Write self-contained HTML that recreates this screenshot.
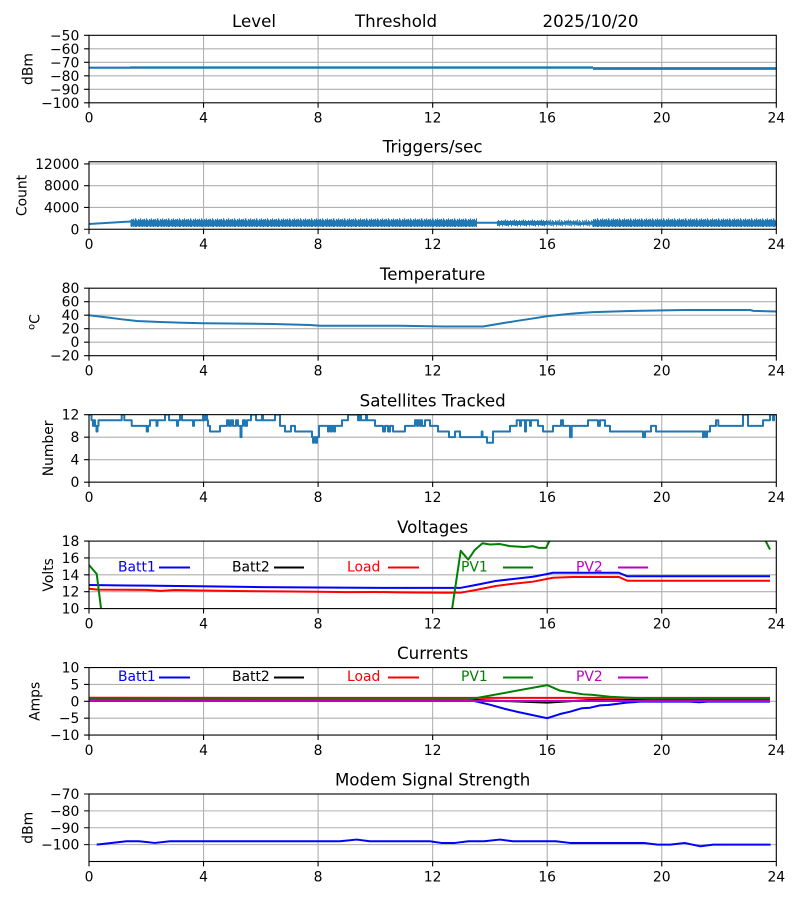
<!DOCTYPE html>
<html><head><meta charset="utf-8"><style>
html,body{margin:0;padding:0;background:#fff;}
svg{display:block;}
text{font-family:"DejaVu Sans","Liberation Sans",sans-serif;fill:#000;}
.t{font-size:13.9px;}
.ti{font-size:16.67px;}
.g{stroke:#b0b0b0;stroke-width:1.1;fill:none;}
.sp{stroke:#000;stroke-width:1.1;fill:none;}
.tk{stroke:#000;stroke-width:1.1;}
.d{fill:none;stroke-width:2;vector-effect:non-scaling-stroke;stroke-linejoin:round;}
</style></head><body>
<svg width="800" height="900" viewBox="0 0 800 900" xmlns="http://www.w3.org/2000/svg">
<defs>
<clipPath id="c1"><rect x="89" y="35.3" width="687.3" height="67.5"/></clipPath>
<clipPath id="c2"><rect x="89" y="161.75" width="687.3" height="67.5"/></clipPath>
<clipPath id="c3"><rect x="89" y="288.2" width="687.3" height="67.5"/></clipPath>
<clipPath id="c4"><rect x="89" y="414.65" width="687.3" height="67.5"/></clipPath>
<clipPath id="c5"><rect x="89" y="541.1" width="687.3" height="67.5"/></clipPath>
<clipPath id="c6"><rect x="89" y="667.55" width="687.3" height="67.5"/></clipPath>
<clipPath id="c7"><rect x="89" y="794" width="687.3" height="67.5"/></clipPath>
<pattern id="noise" patternUnits="userSpaceOnUse" x="0" y="218" width="11" height="10">
<g fill="#1f77b4">
<rect x="0" y="1.5" width="1.1" height="7"/>
<rect x="1" y="0.8" width="1.1" height="8"/>
<rect x="2" y="2.2" width="1.1" height="6.3"/>
<rect x="3" y="0.3" width="1.1" height="8.7"/>
<rect x="4" y="1.6" width="1.1" height="7.4"/>
<rect x="5" y="2.6" width="1.1" height="5.6"/>
<rect x="6" y="1" width="1.1" height="7.6"/>
<rect x="7" y="1.8" width="1.1" height="7.2"/>
<rect x="8" y="0.4" width="1.1" height="8.2"/>
<rect x="9" y="2" width="1.1" height="6.6"/>
<rect x="10" y="1.2" width="1" height="7.8"/>
</g>
</pattern>
<pattern id="noise2" patternUnits="userSpaceOnUse" x="0" y="219" width="9" height="8">
<g fill="#1f77b4">
<rect x="0" y="1.5" width="1.1" height="5"/>
<rect x="1" y="0.5" width="1.1" height="6"/>
<rect x="2" y="2.5" width="1.1" height="4.5"/>
<rect x="3" y="1" width="1.1" height="5.5"/>
<rect x="4" y="2" width="1.1" height="5.5"/>
<rect x="5" y="3" width="1.1" height="3"/>
<rect x="6" y="1" width="1.1" height="5"/>
<rect x="7" y="2" width="1.1" height="5.5"/>
<rect x="8" y="1.5" width="1" height="4.5"/>
</g>
</pattern>
</defs>

<!-- ========== Panel 1: Level ========== -->
<text class="ti" x="232" y="27">Level</text>
<text class="ti" x="355" y="27">Threshold</text>
<text class="ti" x="542.5" y="27">2025/10/20</text>
<g class="g">
<path d="M89 48.8H776.3M89 62.3H776.3M89 75.8H776.3M89 89.3H776.3"/>
<path d="M203.55 35.3V102.8M318.1 35.3V102.8M432.65 35.3V102.8M547.2 35.3V102.8M661.75 35.3V102.8"/>
</g>
<g clip-path="url(#c1)">
<rect x="130" y="66" width="463" height="2.2" fill="#1f77b4" opacity="0.45"/>
<polyline points="89,67.7 593,67.7" fill="none" stroke="#1f77b4" stroke-width="2.2"/>
<polyline points="593,68.5 776.3,68.5" fill="none" stroke="#1f77b4" stroke-width="2.8"/>
</g>
<rect class="sp" x="89" y="35.3" width="687.3" height="67.5"/>
<g class="tk"><path d="M84.1 35.3H89M84.1 48.8H89M84.1 62.3H89M84.1 75.8H89M84.1 89.3H89M84.1 102.8H89"/>
<path d="M89 102.8v4.9M203.55 102.8v4.9M318.1 102.8v4.9M432.65 102.8v4.9M547.2 102.8v4.9M661.75 102.8v4.9M776.3 102.8v4.9"/></g>
<g class="t" text-anchor="end">
<text x="79.3" y="40.3">−50</text><text x="79.3" y="53.8">−60</text><text x="79.3" y="67.3">−70</text><text x="79.3" y="80.8">−80</text><text x="79.3" y="94.3">−90</text><text x="79.3" y="107.8">−100</text>
</g>
<g class="t" text-anchor="middle">
<text x="89" y="122.6">0</text><text x="203.55" y="122.6">4</text><text x="318.1" y="122.6">8</text><text x="432.65" y="122.6">12</text><text x="547.2" y="122.6">16</text><text x="661.75" y="122.6">20</text><text x="776.3" y="122.6">24</text>
</g>
<text class="t" text-anchor="middle" transform="translate(32.5 69.05) rotate(-90)">dBm</text>

<!-- ========== Panel 2: Triggers ========== -->
<text class="ti" x="432.65" y="152.4" text-anchor="middle">Triggers/sec</text>
<g class="g">
<path d="M89 207.47H776.3M89 185.7H776.3M89 163.93H776.3"/>
<path d="M203.55 161.75V229.25M318.1 161.75V229.25M432.65 161.75V229.25M547.2 161.75V229.25M661.75 161.75V229.25"/>
</g>
<g clip-path="url(#c2)">
<polyline points="89,224 130.5,221.5" fill="none" stroke="#1f77b4" stroke-width="2"/>
<rect x="130.5" y="218" width="346.5" height="10" fill="url(#noise)"/>
<rect x="130.5" y="220.5" width="346.5" height="4" fill="#1f77b4"/>
<polyline points="477,222.8 497,222.8" fill="none" stroke="#1f77b4" stroke-width="2"/>
<rect x="497" y="219" width="50" height="8" fill="url(#noise2)"/>
<rect x="497" y="221" width="50" height="3" fill="#1f77b4"/>
<rect x="547" y="219" width="46" height="8" fill="url(#noise2)" opacity="0.85"/>
<polyline points="547,222.5 560,223.5 570,222 580,224 593,222.5" fill="none" stroke="#1f77b4" stroke-width="2"/>
<rect x="593" y="218" width="183.3" height="10" fill="url(#noise)"/>
<rect x="593" y="220.5" width="183.3" height="4" fill="#1f77b4"/>
</g>
<rect class="sp" x="89" y="161.75" width="687.3" height="67.5"/>
<g class="tk"><path d="M84.1 229.25H89M84.1 207.47H89M84.1 185.7H89M84.1 163.93H89"/>
<path d="M89 229.25v4.9M203.55 229.25v4.9M318.1 229.25v4.9M432.65 229.25v4.9M547.2 229.25v4.9M661.75 229.25v4.9M776.3 229.25v4.9"/></g>
<g class="t" text-anchor="end">
<text x="79.3" y="234.25">0</text><text x="79.3" y="212.47">4000</text><text x="79.3" y="190.7">8000</text><text x="79.3" y="168.93">12000</text>
</g>
<g class="t" text-anchor="middle">
<text x="89" y="249.05">0</text><text x="203.55" y="249.05">4</text><text x="318.1" y="249.05">8</text><text x="432.65" y="249.05">12</text><text x="547.2" y="249.05">16</text><text x="661.75" y="249.05">20</text><text x="776.3" y="249.05">24</text>
</g>
<text class="t" text-anchor="middle" transform="translate(26.5 195.5) rotate(-90)">Count</text>

<!-- ========== Panel 3: Temperature ========== -->
<text class="ti" x="432.65" y="279.9" text-anchor="middle">Temperature</text>
<g class="g">
<path d="M89 301.7H776.3M89 315.2H776.3M89 328.7H776.3M89 342.2H776.3"/>
<path d="M203.55 288.2V355.7M318.1 288.2V355.7M432.65 288.2V355.7M547.2 288.2V355.7M661.75 288.2V355.7"/>
</g>
<g clip-path="url(#c3)"><g transform="translate(89 342.2) scale(28.6375 -0.675)">
<polyline class="d" stroke="#1f77b4" points="0,39.9 0.73,36.3 1.14,33.9 1.67,31.4 2.48,29.9 3.28,28.9 3.98,28 6.43,27 7.72,25.5 8.07,24.3 10.86,24.3 12.36,23.2 13.76,23.2 14.35,27.5 14.93,31.5 15.51,35.2 15.98,38.5 16.91,42.6 17.61,44.6 18.89,46.2 20.81,47.7 23.08,47.7 23.2,46.4 24,45.4"/>
</g></g>
<rect class="sp" x="89" y="288.2" width="687.3" height="67.5"/>
<g class="tk"><path d="M84.1 288.2H89M84.1 301.7H89M84.1 315.2H89M84.1 328.7H89M84.1 342.2H89M84.1 355.7H89"/>
<path d="M89 355.7v4.9M203.55 355.7v4.9M318.1 355.7v4.9M432.65 355.7v4.9M547.2 355.7v4.9M661.75 355.7v4.9M776.3 355.7v4.9"/></g>
<g class="t" text-anchor="end">
<text x="79.3" y="293.2">80</text><text x="79.3" y="306.7">60</text><text x="79.3" y="320.2">40</text><text x="79.3" y="333.7">20</text><text x="79.3" y="347.2">0</text><text x="79.3" y="360.7">−20</text>
</g>
<g class="t" text-anchor="middle">
<text x="89" y="375.5">0</text><text x="203.55" y="375.5">4</text><text x="318.1" y="375.5">8</text><text x="432.65" y="375.5">12</text><text x="547.2" y="375.5">16</text><text x="661.75" y="375.5">20</text><text x="776.3" y="375.5">24</text>
</g>
<text class="t" text-anchor="middle" transform="translate(39.5 322) rotate(-90)"><tspan font-size="9.7" dy="-5">o</tspan><tspan dy="5">C</tspan></text>

<!-- ========== Panel 4: Satellites ========== -->
<text class="ti" x="432.65" y="406.3" text-anchor="middle">Satellites Tracked</text>
<g class="g">
<path d="M89 437.15H776.3M89 459.65H776.3"/>
<path d="M203.55 414.65V482.15M318.1 414.65V482.15M432.65 414.65V482.15M547.2 414.65V482.15M661.75 414.65V482.15"/>
</g>
<g clip-path="url(#c4)"><g transform="translate(89 482.15) scale(28.6375 -5.625)">
<polyline class="d" stroke="#1f77b4" points="0,12 0.087,12 0.087,11 0.140,11 0.140,10 0.175,10 0.175,11 0.209,11 0.209,10 0.262,10 0.262,9 0.297,9 0.297,10 0.332,10 0.332,11 1.142,11 1.142,12 1.233,12 1.233,11 1.491,11 1.491,10 2.015,10 2.015,9 2.060,9 2.060,10 2.130,10 2.130,11 2.357,11 2.357,10 2.392,10 2.392,11 2.654,11 2.654,12 2.794,12 2.794,11 3.073,11 3.073,10 3.108,10 3.108,11 3.178,11 3.178,12 3.248,12 3.248,11 3.632,11 3.632,10 3.667,10 3.667,11 3.981,11 3.981,12 4.016,12 4.016,11 4.051,11 4.051,12 4.120,12 4.120,11 4.155,11 4.155,10 4.225,10 4.225,9 4.574,9 4.574,10 4.819,10 4.819,11 4.889,11 4.889,10 4.958,10 4.958,11 5.028,11 5.028,10 5.133,10 5.133,11 5.203,11 5.203,10 5.290,10 5.290,8 5.325,8 5.325,10 5.378,10 5.378,11 5.447,11 5.447,10 5.517,10 5.517,11 5.657,11 5.657,12 5.832,12 5.832,11 6.041,11 6.041,12 6.076,12 6.076,11 6.495,11 6.495,12 6.670,12 6.670,10 6.844,10 6.844,9 7.054,9 7.054,10 7.194,10 7.194,9 7.787,9 7.787,8 7.822,8 7.822,7 7.857,7 7.857,8 7.927,8 7.927,7 7.962,7 7.962,8 8.031,8 8.031,10 8.346,10 8.346,9 8.380,9 8.380,10 8.450,10 8.450,9 8.485,9 8.485,10 8.555,10 8.555,9 8.590,9 8.590,10 8.835,10 8.835,11 9.044,11 9.044,12 9.393,12 9.393,11 9.463,11 9.463,12 9.498,12 9.498,11 9.673,11 9.673,12 9.708,12 9.708,11 9.987,11 9.987,10 10.266,10 10.266,9 10.336,9 10.336,10 10.441,10 10.441,9 10.511,9 10.511,10 10.616,10 10.616,9 11.034,9 11.034,10 11.384,10 11.384,11 11.454,11 11.454,10 11.489,10 11.489,11 11.559,11 11.559,10 11.593,10 11.593,11 11.628,11 11.628,10 11.733,10 11.733,11 11.908,11 11.908,10 12.187,10 12.187,9 12.571,9 12.571,8 12.781,8 12.781,9 12.955,9 12.955,8 13.713,8 13.713,9 13.741,9 13.741,8 13.898,8 13.898,7 14.108,7 14.108,9 14.701,9 14.701,10 14.935,10 14.935,11 15.050,11 15.050,10 15.085,10 15.085,11 15.225,11 15.225,9 15.259,9 15.259,11 15.399,11 15.399,10 15.434,10 15.434,11 15.679,11 15.679,10 15.854,10 15.854,9 16.203,9 16.203,10 16.482,10 16.482,11 16.552,11 16.552,10 16.797,10 16.797,8 16.856,8 16.856,10 17.425,10 17.425,11 17.774,11 17.774,10 17.844,10 17.844,11 18.018,11 18.018,10 18.193,10 18.193,9 19.345,9 19.345,8 19.415,8 19.415,9 19.625,9 19.625,10 19.800,10 19.800,9 21.441,9 21.441,8 21.476,8 21.476,9 21.545,9 21.545,8 21.580,8 21.580,9 21.685,9 21.685,10 21.894,10 21.894,11 21.975,11 21.975,10 22.837,10 22.837,12 23.012,12 23.012,10 23.536,10 23.536,11 23.780,11 23.780,12 23.885,12 23.885,11 23.920,11 23.920,12 24,12"/>
</g></g>
<rect class="sp" x="89" y="414.65" width="687.3" height="67.5"/>
<g class="tk"><path d="M84.1 414.65H89M84.1 437.15H89M84.1 459.65H89M84.1 482.15H89"/>
<path d="M89 482.15v4.9M203.55 482.15v4.9M318.1 482.15v4.9M432.65 482.15v4.9M547.2 482.15v4.9M661.75 482.15v4.9M776.3 482.15v4.9"/></g>
<g class="t" text-anchor="end">
<text x="79.3" y="419.65">12</text><text x="79.3" y="442.15">8</text><text x="79.3" y="464.65">4</text><text x="79.3" y="487.15">0</text>
</g>
<g class="t" text-anchor="middle">
<text x="89" y="501.95">0</text><text x="203.55" y="501.95">4</text><text x="318.1" y="501.95">8</text><text x="432.65" y="501.95">12</text><text x="547.2" y="501.95">16</text><text x="661.75" y="501.95">20</text><text x="776.3" y="501.95">24</text>
</g>
<text class="t" text-anchor="middle" transform="translate(52.8 448.4) rotate(-90)">Number</text>

<!-- ========== Panel 5: Voltages ========== -->
<text class="ti" x="432.65" y="532.8" text-anchor="middle">Voltages</text>
<g class="g">
<path d="M89 557.98H776.3M89 574.85H776.3M89 591.73H776.3"/>
<path d="M203.55 541.1V608.6M318.1 541.1V608.6M432.65 541.1V608.6M547.2 541.1V608.6M661.75 541.1V608.6"/>
</g>
<g clip-path="url(#c5)"><g transform="translate(89 692.975) scale(28.6375 -8.4375)">
<polyline class="d" stroke="#0000ff" points="0,12.8 1,12.75 2,12.72 3.88,12.65 6,12.55 8,12.5 10.86,12.45 12.96,12.45 13.5,12.8 14.2,13.27 14.7,13.47 15.5,13.78 15.96,14.07 16.2,14.25 18.5,14.25 18.8,13.83 23.78,13.83"/>
<polyline class="d" stroke="#ff0000" points="0,12.35 0.3,12.25 2,12.22 2.5,12.1 3,12.2 3.88,12.15 6,12.05 8,12.0 9,11.95 10,11.97 10.86,11.93 12.5,11.88 13,11.9 13.5,12.2 14.2,12.68 14.7,12.9 15.5,13.19 16.2,13.66 16.9,13.75 18.5,13.75 18.8,13.3 23.78,13.3"/>
<polyline class="d" stroke="#008000" points="0,15.17 0.27,14.1 0.45,9.2 0.6,0 12.55,0 12.68,10 12.98,16.85 13.24,15.8 13.47,16.95 13.74,17.74 14.0,17.6 14.35,17.65 14.7,17.4 15.2,17.3 15.5,17.4 15.7,17.2 15.96,17.2 16.15,18.5 16.4,19.5 23.45,19.5 23.6,18.2 23.78,17.0"/>
</g></g>
<rect class="sp" x="89" y="541.1" width="687.3" height="67.5"/>
<g class="tk"><path d="M84.1 541.1H89M84.1 557.98H89M84.1 574.85H89M84.1 591.73H89M84.1 608.6H89"/>
<path d="M89 608.6v4.9M203.55 608.6v4.9M318.1 608.6v4.9M432.65 608.6v4.9M547.2 608.6v4.9M661.75 608.6v4.9M776.3 608.6v4.9"/></g>
<g class="t" text-anchor="end">
<text x="79.3" y="546.1">18</text><text x="79.3" y="562.98">16</text><text x="79.3" y="579.85">14</text><text x="79.3" y="596.73">12</text><text x="79.3" y="613.6">10</text>
</g>
<g class="t" text-anchor="middle">
<text x="89" y="628.4">0</text><text x="203.55" y="628.4">4</text><text x="318.1" y="628.4">8</text><text x="432.65" y="628.4">12</text><text x="547.2" y="628.4">16</text><text x="661.75" y="628.4">20</text><text x="776.3" y="628.4">24</text>
</g>
<text class="t" text-anchor="middle" transform="translate(52.8 574.85) rotate(-90)">Volts</text>
<g class="t">
<text x="118" y="571.5" style="fill:#0000ff">Batt1</text>
<text x="232" y="571.5" style="fill:#000000">Batt2</text>
<text x="347" y="571.5" style="fill:#ff0000">Load</text>
<text x="461" y="571.5" style="fill:#008000">PV1</text>
<text x="576" y="571.5" style="fill:#bf00bf">PV2</text>
</g>
<g stroke-width="2.1">
<path d="M159 567.5H190" stroke="#0000ff"/>
<path d="M274 567.5H304" stroke="#000000"/>
<path d="M388 567.5H419" stroke="#ff0000"/>
<path d="M503 567.5H533" stroke="#008000"/>
<path d="M618 567.5H648" stroke="#bf00bf"/>
</g>

<!-- ========== Panel 6: Currents ========== -->
<text class="ti" x="432.65" y="659.2" text-anchor="middle">Currents</text>
<g class="g">
<path d="M89 684.43H776.3M89 701.3H776.3M89 718.18H776.3"/>
<path d="M203.55 667.55V735.05M318.1 667.55V735.05M432.65 667.55V735.05M547.2 667.55V735.05M661.75 667.55V735.05"/>
</g>
<g clip-path="url(#c6)"><g transform="translate(89 701.3) scale(28.6375 -3.375)">
<polyline class="d" stroke="#0000ff" points="0,0.2 13.4,0.2 14.0,-1.0 14.5,-2.2 15.0,-3.2 16.0,-5.0 16.45,-3.77 16.8,-3.08 17.2,-2.07 17.5,-1.9 17.84,-1.2 18.13,-1.1 18.77,-0.4 19.24,-0.1 21,-0.1 21.3,-0.3 21.6,-0.1 23.78,-0.1"/>
<polyline class="d" stroke="#000000" points="0,0.4 13.5,0.4 16,-0.4 17.5,0.4 23.78,0.4"/>
<polyline class="d" stroke="#ff0000" points="0,1.05 6,1.0 12,1.0 23.78,1.0"/>
<polyline class="d" stroke="#008000" points="0,0.6 13.3,0.6 16.0,4.8 16.45,3.15 17.25,2.07 17.6,1.9 18.19,1.36 18.8,1.1 19.5,0.8 23.78,0.8"/>
<polyline class="d" stroke="#bf00bf" points="0,0.1 13.4,0.1 23.78,0.1"/>
</g></g>
<rect class="sp" x="89" y="667.55" width="687.3" height="67.5"/>
<g class="tk"><path d="M84.1 667.55H89M84.1 684.43H89M84.1 701.3H89M84.1 718.18H89M84.1 735.05H89"/>
<path d="M89 735.05v4.9M203.55 735.05v4.9M318.1 735.05v4.9M432.65 735.05v4.9M547.2 735.05v4.9M661.75 735.05v4.9M776.3 735.05v4.9"/></g>
<g class="t" text-anchor="end">
<text x="79.3" y="672.55">10</text><text x="79.3" y="689.43">5</text><text x="79.3" y="706.3">0</text><text x="79.3" y="723.18">−5</text><text x="79.3" y="740.05">−10</text>
</g>
<g class="t" text-anchor="middle">
<text x="89" y="754.85">0</text><text x="203.55" y="754.85">4</text><text x="318.1" y="754.85">8</text><text x="432.65" y="754.85">12</text><text x="547.2" y="754.85">16</text><text x="661.75" y="754.85">20</text><text x="776.3" y="754.85">24</text>
</g>
<text class="t" text-anchor="middle" transform="translate(39.5 701.3) rotate(-90)">Amps</text>
<g class="t">
<text x="118" y="681" style="fill:#0000ff">Batt1</text>
<text x="232" y="681" style="fill:#000000">Batt2</text>
<text x="347" y="681" style="fill:#ff0000">Load</text>
<text x="461" y="681" style="fill:#008000">PV1</text>
<text x="576" y="681" style="fill:#bf00bf">PV2</text>
</g>
<g stroke-width="2.1">
<path d="M159 677.5H190" stroke="#0000ff"/>
<path d="M274 677.5H304" stroke="#000000"/>
<path d="M388 677.5H419" stroke="#ff0000"/>
<path d="M503 677.5H533" stroke="#008000"/>
<path d="M618 677.5H648" stroke="#bf00bf"/>
</g>

<!-- ========== Panel 7: Modem ========== -->
<text class="ti" x="432.65" y="785.7" text-anchor="middle">Modem Signal Strength</text>
<g class="g">
<path d="M89 810.88H776.3M89 827.75H776.3M89 844.63H776.3"/>
<path d="M203.55 794V861.5M318.1 794V861.5M432.65 794V861.5M547.2 794V861.5M661.75 794V861.5"/>
</g>
<g clip-path="url(#c7)"><g transform="translate(89 675.875) scale(28.6375 -1.6875)">
<polyline class="d" stroke="#0000ff" points="0.27,-100 1.31,-98 1.75,-98 2.3,-99 2.83,-98 8.76,-98 9.35,-97 9.8,-98 11.9,-98 12.3,-99 12.78,-99 13.25,-98 13.8,-98 14.35,-97 14.8,-98 16.3,-98 16.8,-99 19.38,-99 19.85,-100 20.3,-100 20.8,-99 21.35,-101 21.8,-100 23.8,-100"/>
</g></g>
<rect class="sp" x="89" y="794" width="687.3" height="67.5"/>
<g class="tk"><path d="M84.1 794H89M84.1 810.88H89M84.1 827.75H89M84.1 844.63H89"/>
<path d="M89 861.5v4.9M203.55 861.5v4.9M318.1 861.5v4.9M432.65 861.5v4.9M547.2 861.5v4.9M661.75 861.5v4.9M776.3 861.5v4.9"/></g>
<g class="t" text-anchor="end">
<text x="79.3" y="799">−70</text><text x="79.3" y="815.88">−80</text><text x="79.3" y="832.75">−90</text><text x="79.3" y="849.63">−100</text>
</g>
<g class="t" text-anchor="middle">
<text x="89" y="881.3">0</text><text x="203.55" y="881.3">4</text><text x="318.1" y="881.3">8</text><text x="432.65" y="881.3">12</text><text x="547.2" y="881.3">16</text><text x="661.75" y="881.3">20</text><text x="776.3" y="881.3">24</text>
</g>
<text class="t" text-anchor="middle" transform="translate(32.5 827.75) rotate(-90)">dBm</text>
</svg>
</body></html>
